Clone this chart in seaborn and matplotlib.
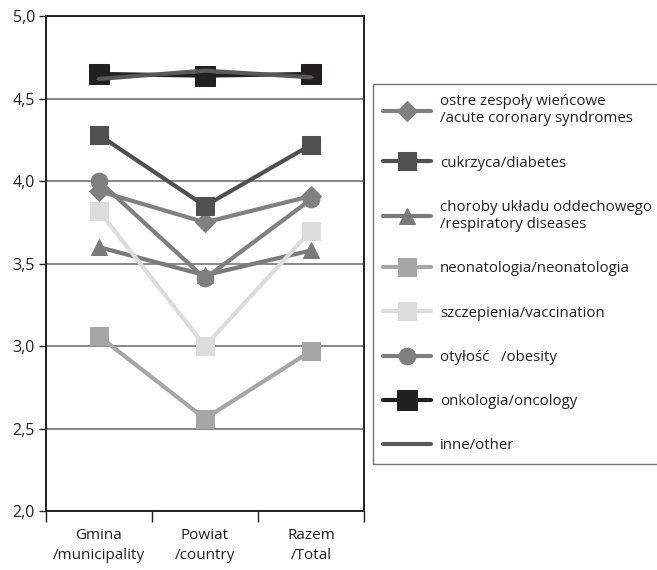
import pandas as pd
import seaborn as sns
import matplotlib.pyplot as plt
from matplotlib.ticker import FuncFormatter, FixedLocator

# dane
categories = ['Gmina\n/municipality', 'Powiat\n/country', 'Razem\n/Total']
series_names = [
    'ostre zespoły wieńcowe\n/acute coronary syndromes',
    'cukrzyca/diabetes',
    'choroby układu oddechowego\n/respiratory diseases',
    'neonatologia/neonatologia',
    'szczepienia/vaccination',
    'otyłość   /obesity',
    'onkologia/oncology',
    'inne/other',
]
ostre = [3.94, 3.75, 3.91]
cukrzyca = [4.28, 3.85, 4.22]
choroby = [3.60, 3.43, 3.58]
neonatologia = [3.06, 2.56, 2.97]
szczepienia = [3.82, 3.00, 3.70]
otylosc = [4.00, 3.41, 3.89]
onkologia = [4.65, 4.64, 4.65]
inne = [4.62, 4.67, 4.63]
values = [ostre, cukrzyca, choroby, neonatologia, szczepienia, otylosc, onkologia, inne]

colors = ['#808080', '#505050', '#7a7a7a', '#a6a6a8', '#dcdcdd', '#7f7f7f', '#231f20', '#58585a']
markers = ['D', 's', '^', 's', 's', 'o', 's', '_']
msizes = [10, 13, 12, 13, 13, 12, 14, 4]

sns.set_style('white')
plt.rcParams['font.family'] = ['Open Sans', 'DejaVu Sans']

fig = plt.figure(figsize=(6.57, 5.70), dpi=100)
ax = fig.add_axes([0.070, 0.1035, 0.484, 0.868])

for name, vals, c, m, ms in zip(series_names, values, colors, markers, msizes):
    df = pd.DataFrame({'kat': categories, 'wartosc': vals})
    sns.lineplot(data=df, x='kat', y='wartosc', ax=ax, color=c, marker=m,
                 markersize=ms, markeredgecolor=c, linewidth=3, label=name, sort=False)

ax.set_xlim(-0.5, 2.5)
ax.set_ylim(2.0, 5.0)
ax.set_yticks([2.0, 2.5, 3.0, 3.5, 4.0, 4.5, 5.0])
ax.yaxis.set_major_formatter(FuncFormatter(lambda v, p: f'{v:.1f}'.replace('.', ',')))
ax.yaxis.grid(True, color='#7f7f7f', linewidth=1.3)
ax.set_axisbelow(True)
ax.set_xlabel('')
ax.set_ylabel('')
for s in ax.spines.values():
    s.set_color('#231f20')
    s.set_linewidth(1.4)

ax.tick_params(axis='y', direction='out', length=5, width=1, color='#231f20',
               labelsize=11.5, labelcolor='#231f20', left=True, pad=3)
ax.tick_params(axis='x', which='major', length=0, labelsize=11, labelcolor='#231f20', pad=12)
for t in ax.get_xticklabels():
    t.set_linespacing(1.45)
ax.xaxis.set_minor_locator(FixedLocator([-0.5, 0.5, 1.5, 2.5]))
ax.tick_params(axis='x', which='minor', direction='out', length=8, width=1,
               color='#231f20', bottom=True)

leg = ax.legend(loc='upper left', bbox_to_anchor=(0.567, 0.853), bbox_transform=fig.transFigure,
                frameon=True, fancybox=False, fontsize=10.8, labelspacing=1.95,
                handlelength=3.2, handletextpad=0.6, borderpad=0.7, borderaxespad=0)
leg.get_frame().set_edgecolor('#555555')
leg.get_frame().set_linewidth(1.0)
for t in leg.get_texts():
    t.set_color('#231f20')

plt.savefig('out.png', dpi=100)
